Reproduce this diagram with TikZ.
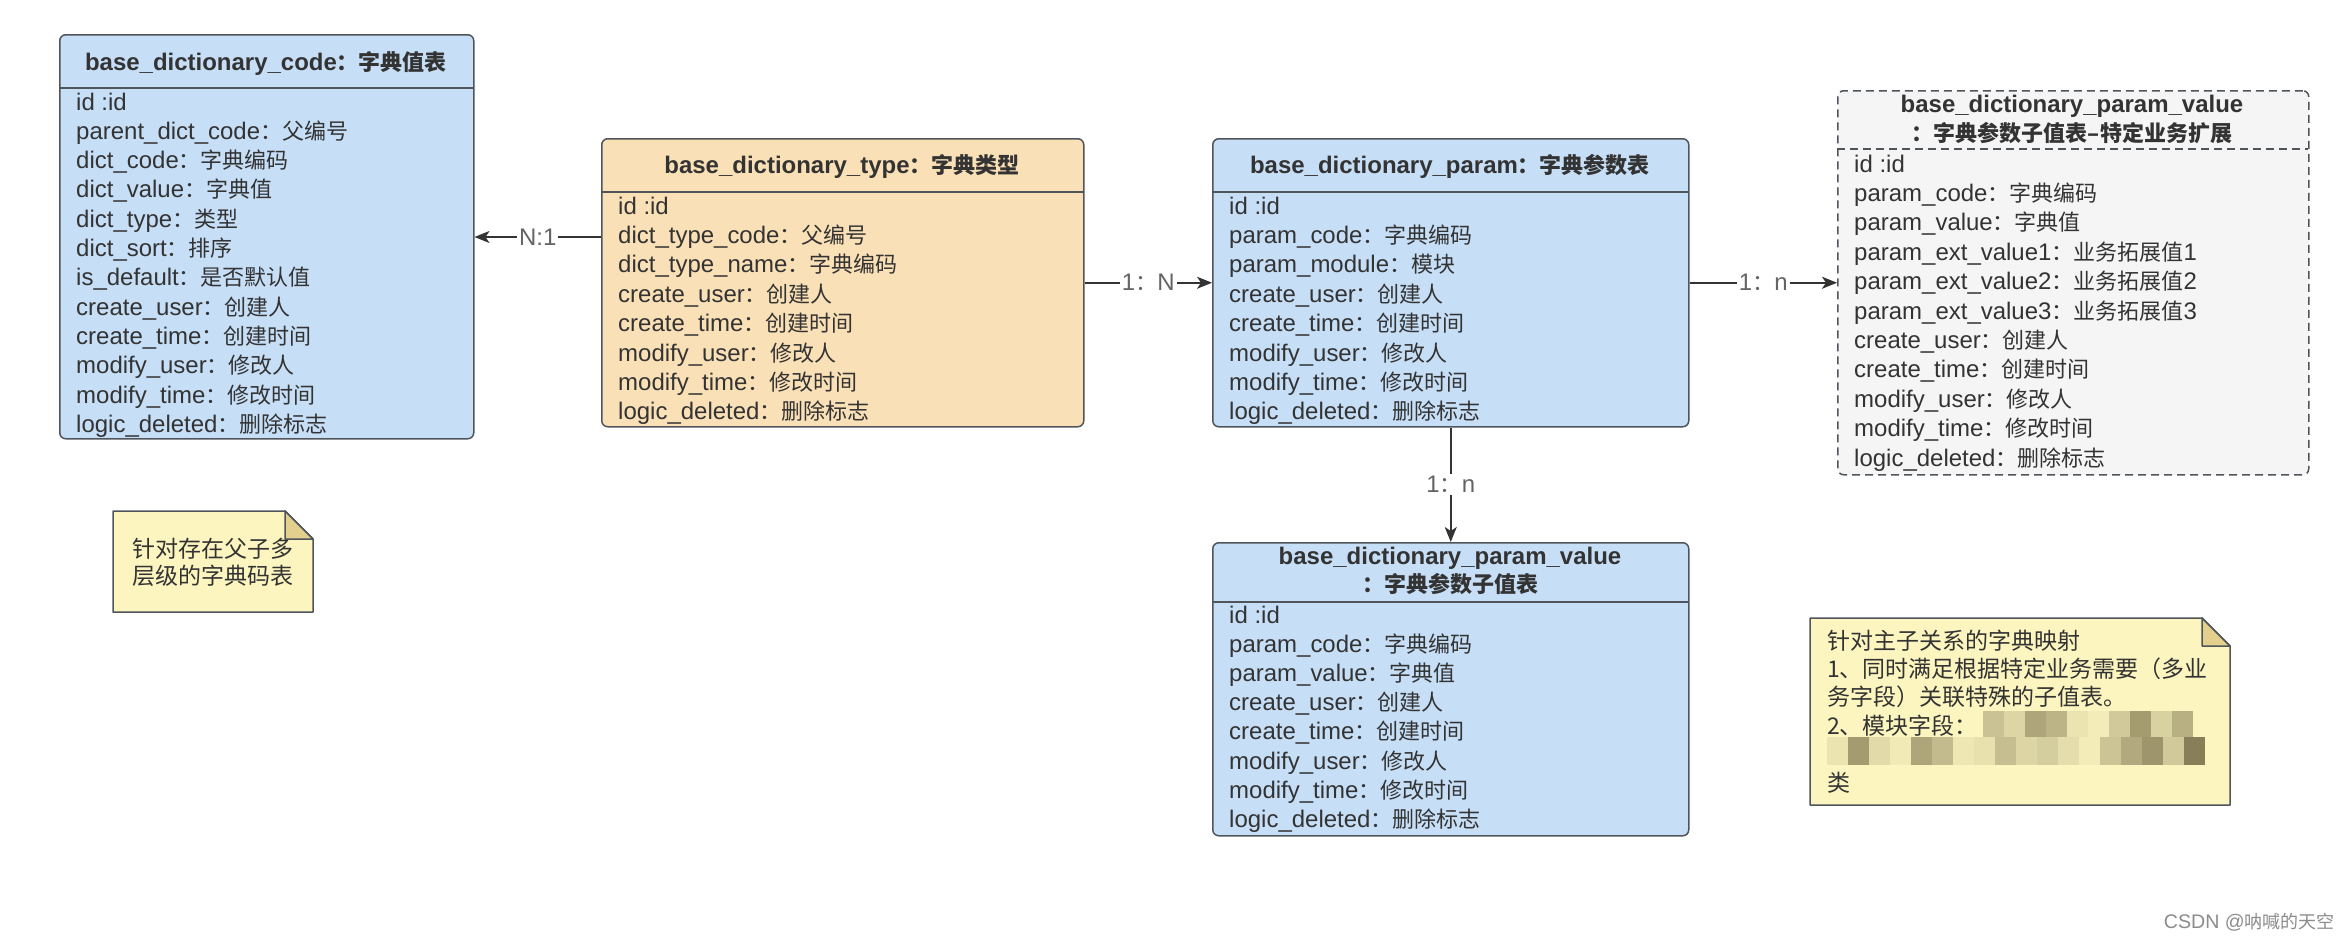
\documentclass[tikz,border=0pt]{standalone}
\usepackage{fontspec}
\setmainfont{Liberation Sans}[Scale=1.09]
\newfontfamily\cjk{Noto Sans CJK SC}
\usetikzlibrary{arrows.meta}
\definecolor{tblblue}{RGB}{198,222,246}
\definecolor{tblorange}{RGB}{250,224,182}
\definecolor{tblgray}{RGB}{245,245,245}
\definecolor{notefill}{RGB}{252,245,192}
\definecolor{notefold}{RGB}{226,208,140}
\definecolor{mdark}{RGB}{110,100,65}
\definecolor{bordercol}{RGB}{80,85,92}
\definecolor{txt}{RGB}{51,51,51}
\definecolor{lblcol}{RGB}{100,100,100}
\newcommand\zh[1]{{\cjk #1}}
\newcommand\fld[2]{#1\zh{：#2}}
\newcommand\lines[6]{\foreach \f [count=\i] in {#6}{\node[#5] (#1-\i) at (#2,{#3+#4*(\i-1)}) {\f};}}
\begin{document}
\begin{tikzpicture}[x=1pt,y=-1pt,
  tbox/.style={draw=bordercol,line width=1.5pt,rounded corners=6pt,anchor=north west,inner sep=0pt},
  hdr/.style={draw=bordercol,line width=1.5pt},
  fieldtxt/.style={anchor=west,inner sep=0pt,text=txt,text height=18pt,text depth=4pt,font=\fontsize{22}{26}\selectfont},
  titletxt/.style={anchor=center,inner sep=0pt,text=txt,text height=18pt,text depth=4pt,font=\fontsize{22}{26}\selectfont\bfseries},
  conn/.style={draw=black!80,line width=1.6pt,-{Stealth[length=15pt,width=12pt,inset=4pt]}},
  lbl/.style={fill=white,text=lblcol,inner sep=2pt,font=\fontsize{22}{26}\selectfont},
  notebody/.style={draw=bordercol,line width=1.5pt,fill=notefill,line join=round},
  notefoldst/.style={draw=bordercol,line width=1.5pt,fill=notefold,line join=round},
  notetxt/.style={anchor=west,inner sep=0pt,text=txt,text height=18pt,text depth=4pt,font=\cjk\fontsize{23}{27}\selectfont}]
\useasboundingbox (0,0) rectangle (2350,940);
\fill[white] (0,0) rectangle (2350,940);

% ---------- base_dictionary_code ----------
\node[tbox,fill=tblblue,minimum width=414pt,minimum height=404pt] (code) at (59,34) {};
\draw[hdr] (59,88) -- (473,88);
\node[titletxt] (code-title) at (266,63) {base\_dictionary\_code\zh{：字典值表}};
\lines{code}{76}{103}{29.3}{fieldtxt}{id :id,\fld{parent\_dict\_code}{父编号},\fld{dict\_code}{字典编码},\fld{dict\_value}{字典值},\fld{dict\_type}{类型},\fld{dict\_sort}{排序},\fld{is\_default}{是否默认值},\fld{create\_user}{创建人},\fld{create\_time}{创建时间},\fld{modify\_user}{修改人},\fld{modify\_time}{修改时间},\fld{logic\_deleted}{删除标志}}

% ---------- base_dictionary_type ----------
\node[tbox,fill=tblorange,minimum width=482pt,minimum height=288pt] (type) at (601,138) {};
\draw[hdr] (601,192) -- (1083,192);
\node[titletxt] (type-title) at (842,166) {base\_dictionary\_type\zh{：字典类型}};
\lines{type}{618}{207}{29.4}{fieldtxt}{id :id,\fld{dict\_type\_code}{父编号},\fld{dict\_type\_name}{字典编码},\fld{create\_user}{创建人},\fld{create\_time}{创建时间},\fld{modify\_user}{修改人},\fld{modify\_time}{修改时间},\fld{logic\_deleted}{删除标志}}

% ---------- base_dictionary_param ----------
\node[tbox,fill=tblblue,minimum width=476pt,minimum height=288pt] (param) at (1212,138) {};
\draw[hdr] (1212,192) -- (1688,192);
\node[titletxt] (param-title) at (1450,166) {base\_dictionary\_param\zh{：字典参数表}};
\lines{param}{1229}{207}{29.4}{fieldtxt}{id :id,\fld{param\_code}{字典编码},\fld{param\_module}{模块},\fld{create\_user}{创建人},\fld{create\_time}{创建时间},\fld{modify\_user}{修改人},\fld{modify\_time}{修改时间},\fld{logic\_deleted}{删除标志}}

% ---------- base_dictionary_param_value (extension, dashed) ----------
\node[tbox,fill=tblgray,dash pattern=on 8pt off 5pt,minimum width=471pt,minimum height=384pt] (ext) at (1837,90) {};
\draw[hdr,dash pattern=on 8pt off 5pt] (1837,149) -- (2308,149);
\node[titletxt] (ext-title1) at (2072,105) {base\_dictionary\_param\_value};
\node[titletxt] (ext-title2) at (2072,134) {\zh{：字典参数子值表–特定业务扩展}};
\lines{ext}{1854}{165}{29.4}{fieldtxt}{id :id,\fld{param\_code}{字典编码},\fld{param\_value}{字典值},\fld{param\_ext\_value1}{业务拓展值}1,\fld{param\_ext\_value2}{业务拓展值}2,\fld{param\_ext\_value3}{业务拓展值}3,\fld{create\_user}{创建人},\fld{create\_time}{创建时间},\fld{modify\_user}{修改人},\fld{modify\_time}{修改时间},\fld{logic\_deleted}{删除标志}}

% ---------- base_dictionary_param_value ----------
\node[tbox,fill=tblblue,minimum width=476pt,minimum height=293pt] (pv) at (1212,542) {};
\draw[hdr] (1212,602) -- (1688,602);
\node[titletxt] (pv-title1) at (1450,557) {base\_dictionary\_param\_value};
\node[titletxt] (pv-title2) at (1450,585) {\zh{：字典参数子值表}};
\lines{pv}{1229}{616}{29.2}{fieldtxt}{id :id,\fld{param\_code}{字典编码},\fld{param\_value}{字典值},\fld{create\_user}{创建人},\fld{create\_time}{创建时间},\fld{modify\_user}{修改人},\fld{modify\_time}{修改时间},\fld{logic\_deleted}{删除标志}}

% ---------- connectors ----------
\coordinate (yA) at (0,237);
\draw[conn] (type.west |- yA) -- node[lbl] (lblA) {N:1} (code.east |- yA);
\draw[conn] (type.east) -- node[lbl] (lblB) {1\zh{：}N} (param.west);
\draw[conn] (param.east) -- node[lbl] (lblC) {1\zh{：}n} (ext.west);
\draw[conn] (param.south) -- node[lbl] (lblD) {1\zh{：}n} (pv.north);

% ---------- note 1 ----------
\draw[notebody] (113,511) -- (285,511) -- (313,539) -- (313,612) -- (113,612) -- cycle;
\draw[notefoldst] (285,511) -- (313,539) -- (285,539) -- cycle;
\lines{noteA}{132}{550}{27.5}{notetxt}{针对存在父子多,层级的字典码表}

% ---------- note 2 ----------
\draw[notebody] (1810,618) -- (2202,618) -- (2230,646) -- (2230,805) -- (1810,805) -- cycle;
\draw[notefoldst] (2202,618) -- (2230,646) -- (2202,646) -- cycle;
\lines{noteB}{1827}{642}{28.4}{notetxt}{针对主子关系的字典映射,1、同时满足根据特定业务需要（多业,务字段）关联特殊的子值表。,2、模块字段：}
\node[notetxt] (noteB-6) at (1827,784) {类};
% pixelated (masked) part of the note
\foreach \x/\p in {1983/35,2004/22,2025/55,2046/45,2067/12,2088/6,2109/30,2130/62,2151/25,2172/48}
  {\fill[mdark!\p!notefill] (\x,711) rectangle ++(21,26);}
\foreach \x/\p in {1827/12,1848/62,1869/18,1890/8,1911/55,1932/40,1953/10,1974/14,1995/38,2016/22,2037/28,2058/16,2079/6,2100/34,2121/52,2142/66,2163/30,2184/82}
  {\fill[mdark!\p!notefill] (\x,737) rectangle ++(21,28);}

% ---------- watermark ----------
\node[anchor=east,inner sep=0pt,text=black!45,font=\fontsize{18}{20}\selectfont] (csdn) at (2335,922) {CSDN @\zh{呐喊的天空}};
\end{tikzpicture}
\end{document}
